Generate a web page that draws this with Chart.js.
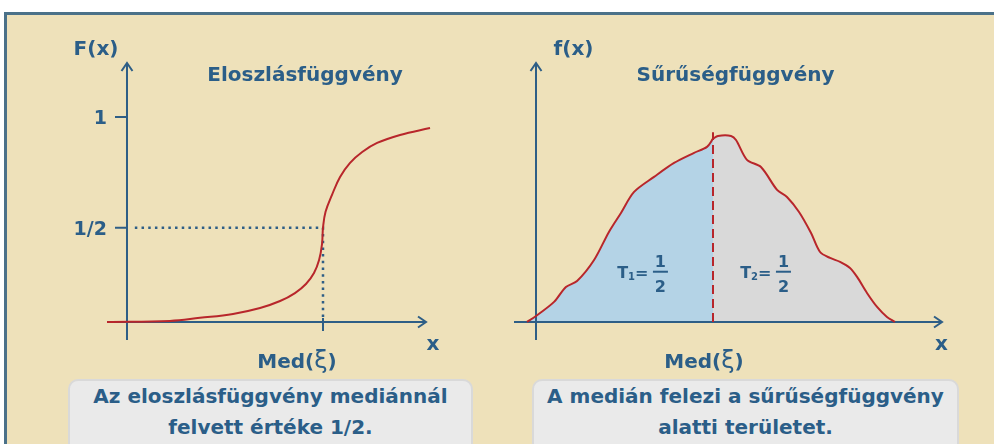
<!DOCTYPE html>
<html lang="hu">
<head>
<meta charset="utf-8">
<script src="https://cdn.jsdelivr.net/npm/chart.js@4.4.1/dist/chart.umd.min.js"></script>
<style>
  html, body { margin: 0; padding: 0; background: #fff; }
  body { width: 994px; height: 444px; overflow: hidden; position: relative; font-family: "DejaVu Sans", sans-serif; }
  .keret { position: absolute; left: 4px; top: 12px; width: 1000px; height: 450px; background: #EEE1BA;
           border-top: 3px solid #4B7189; border-left: 3px solid #4B7189; }
  canvas { position: absolute; top: 0; }
  .felirat { position: absolute; top: 379px; height: 80px; box-sizing: border-box; background: #EAEAEA;
             border: 2px solid #D9D9D9; border-radius: 10px; color: #2B5E88; font-weight: bold;
             font-size: 20px; line-height: 31px; text-align: center; z-index: 2; }
</style>
</head>
<body>
<div class="keret"></div>
<canvas id="eloszlas" width="497" height="444" style="left:0"></canvas>
<canvas id="suruseg" width="497" height="444" style="left:497px"></canvas>
<div class="felirat" style="left:68px; width:405px">Az eloszlásfüggvény mediánnál<br>felvett értéke 1/2.</div>
<div class="felirat" style="left:532px; width:427px">A medián felezi a sűrűségfüggvény<br>alatti területet.</div>

<script>
// eloszlásfüggvény (bal oldal)
const medianBal = 10;
const eloszlasX = [-1.02, 2.19, 3.72, 5.41, 6.79, 7.81, 8.57, 9.13, 9.54, 9.8, 9.95, 10, 10.13, 10.46, 10.87, 11.38, 12.0, 12.76, 13.93, 15.46];
const eloszlasF = [0, 0.005, 0.02, 0.039, 0.068, 0.102, 0.141, 0.185, 0.239, 0.302, 0.38, 0.459, 0.537, 0.62, 0.707, 0.776, 0.829, 0.873, 0.912, 0.946];
const yOsztasok = [0.459, 1];
const yOsztasFeliratok = ['1/2', '1'];

// sűrűségfüggvény (jobb oldal)
const medianJobb = 10;
const surusegBalX = [-0.51, 0, 1.02, 1.69, 2.32, 3.28, 4.12, 4.8, 5.54, 6.67, 7.8, 8.93, 9.66, 10];
const surusegBalF = [0, 0.032, 0.108, 0.188, 0.22, 0.333, 0.484, 0.586, 0.699, 0.78, 0.855, 0.909, 0.941, 0.985];
const surusegJobbX = [10, 10.28, 11.02, 11.3, 11.92, 12.71, 13.62, 14.18, 14.86, 15.54, 16.05, 16.61, 17.18, 17.74, 18.14, 18.7, 19.27, 19.83, 20.28];
const surusegJobbF = [0.985, 1.0, 1.0, 0.978, 0.871, 0.833, 0.71, 0.672, 0.591, 0.478, 0.376, 0.344, 0.323, 0.29, 0.242, 0.156, 0.081, 0.027, 0];
const teruletFeliratok = ['1', '2'];   // T1, T2 indexe
const teruletHelyX = [7.03, 13.98];
const teruletHelyY = 0.27;

const KEK = '#2E5E86';
const SZOVEG = '#2B5E88';
const PIROS = '#B8262B';
const FONT = '"DejaVu Sans", sans-serif';

const pontok = (xs, ys) => xs.map((x, i) => ({ x: x, y: ys[i] }));

const rajzPlugin = {
    id: 'rajz',
    beforeDatasetsDraw(chart, args, o) {
        const { ctx, chartArea: a, scales: { x, y } } = chart;
        const x0 = x.getPixelForValue(0), y0 = y.getPixelForValue(0);
        ctx.save();
        ctx.strokeStyle = KEK;
        ctx.lineWidth = 2;
        ctx.beginPath();
        ctx.moveTo(x0, a.bottom); ctx.lineTo(x0, a.top);
        ctx.moveTo(a.left, y0); ctx.lineTo(a.right, y0);
        // nyilak
        ctx.moveTo(x0 - 5.5, a.top + 8); ctx.lineTo(x0, a.top); ctx.lineTo(x0 + 5.5, a.top + 8);
        ctx.moveTo(a.right - 8, y0 - 5.5); ctx.lineTo(a.right, y0); ctx.lineTo(a.right - 8, y0 + 5.5);
        // osztások
        (o.yTicks || []).forEach(v => {
            const py = y.getPixelForValue(v);
            ctx.moveTo(x0 - 12, py); ctx.lineTo(x0, py);
        });
        if (o.medianOsztas) {
            const px = x.getPixelForValue(o.median);
            ctx.moveTo(px, y0 - 4); ctx.lineTo(px, y0 + 9);
        }
        ctx.stroke();
        ctx.restore();
    },
    afterDraw(chart, args, o) {
        const { ctx, scales: { x, y } } = chart;
        const x0 = x.getPixelForValue(0);
        ctx.save();
        ctx.fillStyle = SZOVEG;
        ctx.strokeStyle = SZOVEG;
        ctx.textBaseline = 'alphabetic';
        ctx.textAlign = 'center';
        ctx.font = 'bold 20px ' + FONT;
        ctx.fillText(o.cim, o.cimX, 81);
        ctx.fillText(o.yNev, o.yNevX, 55);
        ctx.fillText('x', o.xNevX, 350);

        ctx.textAlign = 'right';
        ctx.font = 'bold 19px ' + FONT;
        (o.yTicks || []).forEach((v, i) => {
            ctx.fillText(o.yTickFeliratok[i], x0 - 20, y.getPixelForValue(v) + 7);
        });

        // Med(ξ)
        const reszek = [['Med(', 'bold 20px '], ['ξ', '24px '], [')', 'bold 20px ']];
        let szel = 0;
        reszek.forEach(r => { ctx.font = r[1] + FONT; szel += ctx.measureText(r[0]).width; });
        let hx = o.medX - szel / 2;
        ctx.textAlign = 'left';
        reszek.forEach(r => {
            ctx.font = r[1] + FONT;
            ctx.fillText(r[0], hx, 368);
            hx += ctx.measureText(r[0]).width;
        });

        // T1 = 1/2, T2 = 1/2
        (o.teruletek || []).forEach(t => {
            const px = x.getPixelForValue(t.x), py = y.getPixelForValue(t.y);
            ctx.lineWidth = 2;
            ctx.beginPath(); ctx.moveTo(px - 7.5, py); ctx.lineTo(px + 7.5, py); ctx.stroke();
            ctx.textAlign = 'center';
            ctx.font = 'bold 16px ' + FONT;
            ctx.fillText('1', px, py - 5);
            ctx.fillText('2', px, py + 20);
            ctx.textAlign = 'right';
            let jx = px - 12;
            ctx.fillText('=', jx, py + 6);
            jx -= ctx.measureText('=').width;
            ctx.font = 'bold 10px ' + FONT;
            ctx.fillText(t.index, jx, py + 8);
            jx -= ctx.measureText(t.index).width;
            ctx.font = 'bold 16px ' + FONT;
            ctx.fillText('T', jx, py + 6);
        });
        ctx.restore();
    }
};

function diagram(id, datasets, xMin, xMax, yMin, yMax, padding, rajz) {
    return new Chart(document.getElementById(id).getContext('2d'), {
        type: 'line',
        data: { datasets: datasets },
        options: {
            responsive: false,
            animation: false,
            events: [],
            layout: { padding: padding },
            scales: {
                x: { type: 'linear', min: xMin, max: xMax, display: false },
                y: { type: 'linear', min: yMin, max: yMax, display: false }
            },
            elements: { point: { radius: 0 } },
            plugins: {
                legend: { display: false },
                tooltip: { enabled: false },
                filler: { drawTime: 'beforeDraw' },
                rajz: rajz
            }
        },
        plugins: [rajzPlugin]
    });
}

const felErtek = yOsztasok[yOsztasFeliratok.indexOf('1/2')];

diagram('eloszlas', [
    {
        data: pontok(eloszlasX, eloszlasF),
        borderColor: PIROS, borderWidth: 2,
        tension: 0.4, fill: false, clip: false
    },
    {
        data: [{ x: 0.4, y: felErtek }, { x: medianBal, y: felErtek }, { x: medianBal, y: 0 }],
        borderColor: KEK, borderWidth: 2.5, borderDash: [2.5, 4.2], fill: false
    }
], -1.02, 15.255, -0.088, 1.263, { left: 107, top: 63, right: 71, bottom: 104 }, {
    cim: 'Eloszlásfüggvény', cimX: 305,
    yNev: 'F(x)', yNevX: 96,
    xNevX: 433,
    medX: 297, median: medianBal, medianOsztas: true,
    yTicks: yOsztasok, yTickFeliratok: yOsztasFeliratok
});

diagram('suruseg', [
    {
        data: pontok(surusegBalX, surusegBalF),
        borderColor: PIROS, borderWidth: 2, backgroundColor: '#B4D3E6',
        tension: 0.3, fill: 'origin'
    },
    {
        data: pontok(surusegJobbX, surusegJobbF),
        borderColor: PIROS, borderWidth: 2, backgroundColor: '#D9D9D9',
        tension: 0.3, fill: 'origin'
    },
    {
        data: [{ x: medianJobb, y: 0 }, { x: medianJobb, y: 1.02 }],
        borderColor: PIROS, borderWidth: 2, borderDash: [9, 5], fill: false
    }
], -1.243, 22.938, -0.097, 1.392, { left: 17, top: 63, right: 52, bottom: 104 }, {
    cim: 'Sűrűségfüggvény', cimX: 238.5,
    yNev: 'f(x)', yNevX: 76.5,
    xNevX: 444.5,
    medX: 207, median: medianJobb, medianOsztas: false,
    teruletek: teruletHelyX.map((hx, i) => ({ x: hx, y: teruletHelyY, index: teruletFeliratok[i] }))
});
</script>
</body>
</html>
